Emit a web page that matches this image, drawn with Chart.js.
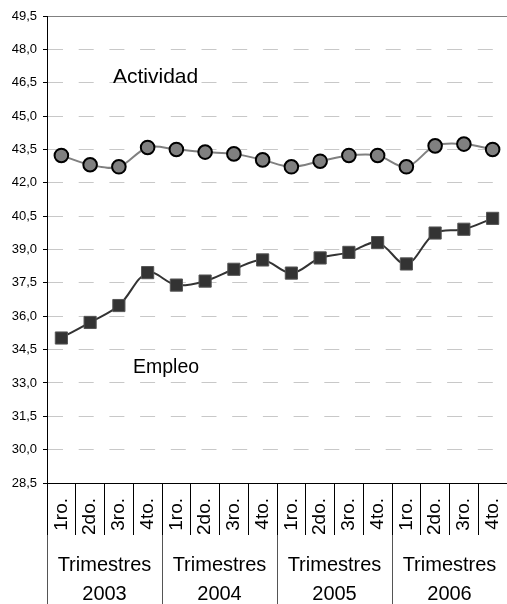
<!DOCTYPE html>
<html>
<head>
<meta charset="utf-8">
<script src="https://cdn.jsdelivr.net/npm/chart.js@4"></script>
<style>
  html, body { margin: 0; padding: 0; background: #fff; }
  #wrap { width: 507px; height: 604px; }
</style>
</head>
<body>
<div id="wrap"><canvas id="c" width="507" height="604"></canvas></div>
<script>
// ---- Data ----
const quarters = ['1ro.', '2do.', '3ro.', '4to.'];
const years = ['2003', '2004', '2005', '2006'];
const groupWord = 'Trimestres';
const actividad = [43.23, 42.81, 42.72, 43.59, 43.50, 43.38, 43.30, 43.03, 42.72, 42.97, 43.23, 43.23, 42.72, 43.66, 43.74, 43.50];
const empleo = [35.02, 35.72, 36.48, 37.96, 37.40, 37.58, 38.11, 38.53, 37.94, 38.62, 38.87, 39.31, 38.35, 39.74, 39.91, 40.40];
const yMin = 28.5;
const yMax = 49.5;
const yStep = 1.5;
const seriesNames = ['Actividad', 'Empleo'];

// ---- Derived ----
const categories = years.flatMap(() => quarters);
const groupLabels = years.map(y => [groupWord, y]);
const fmt = v => v.toFixed(1).replace('.', ',');
const topTickIndex = Math.round((yMax - yMin) / yStep);

const FONT = '"Liberation Sans", Arial, sans-serif';
Chart.defaults.font.family = FONT;
Chart.defaults.color = '#000';

const annotations = {
  id: 'annotations',
  beforeDraw(chart) {
    const c = chart.ctx;
    c.save();
    c.fillStyle = '#fff';
    c.fillRect(0, 0, chart.width, chart.height);
    c.restore();
  },
  afterDatasetsDraw(chart) {
    const c = chart.ctx;
    c.save();
    c.fillStyle = '#000';
    c.textBaseline = 'alphabetic';
    c.textAlign = 'left';
    c.font = '21px ' + FONT;
    c.fillText(seriesNames[0], 113, 83);
    c.font = '19.5px ' + FONT;
    c.fillText(seriesNames[1], 133, 373);
    c.restore();
  }
};

const noSidePadding = (h) => (s) => {
  s.height = h;
  s.paddingLeft = 0;
  s.paddingRight = 0;
};

new Chart(document.getElementById('c'), {
  type: 'line',
  data: {
    labels: categories,
    datasets: [
      {
        label: seriesNames[0],
        data: actividad,
        borderColor: '#808080',
        borderWidth: 2,
        tension: 0.35,
        pointStyle: 'circle',
        pointRadius: 6.8,
        pointHoverRadius: 6.8,
        pointBackgroundColor: '#808080',
        pointBorderColor: '#000',
        pointBorderWidth: 2
      },
      {
        label: seriesNames[1],
        data: empleo,
        borderColor: '#333333',
        borderWidth: 2,
        tension: 0.35,
        pointStyle: 'rect',
        pointRadius: 8.6,
        pointHoverRadius: 8.6,
        pointBackgroundColor: '#333333',
        pointBorderColor: '#555555',
        pointBorderWidth: 1
      }
    ]
  },
  options: {
    responsive: false,
    animation: false,
    events: [],
    layout: { autoPadding: false, padding: { top: 16, right: 0, bottom: 0, left: 0 } },
    plugins: { legend: { display: false }, tooltip: { enabled: false } },
    scales: {
      y: {
        min: yMin,
        max: yMax,
        ticks: {
          stepSize: yStep,
          padding: 6,
          font: { size: 13 },
          color: '#000',
          callback: v => fmt(v)
        },
        grid: {
          color: ctx => (ctx.index === topTickIndex ? '#808080' : '#c8c8c8'),
          lineWidth: 1,
          drawTicks: true,
          tickLength: 4,
          tickColor: '#000',
          tickBorderDash: []
        },
        border: {
          display: true,
          color: '#000',
          width: 1,
          dash: ctx => (ctx.index === topTickIndex ? [] : [15, 15.7])
        },
        afterFit: s => { s.width = 47; }
      },
      x: {
        type: 'category',
        position: 'bottom',
        weight: 0,
        offset: true,
        grid: {
          offset: true,
          drawOnChartArea: false,
          drawTicks: true,
          tickLength: 52,
          color: '#000',
          tickColor: '#000',
          lineWidth: 1
        },
        border: { display: true, color: '#000', width: 1 },
        ticks: {
          autoSkip: false,
          minRotation: 90,
          maxRotation: 90,
          padding: -37,
          font: { size: 19 },
          color: '#000'
        },
        afterFit: noSidePadding(52)
      },
      x2: {
        type: 'category',
        axis: 'x',
        labels: groupLabels,
        position: 'bottom',
        weight: 1,
        offset: true,
        grid: {
          offset: true,
          drawOnChartArea: false,
          drawTicks: true,
          tickLength: 69,
          color: '#555',
          tickColor: '#555',
          lineWidth: 1
        },
        border: { display: false },
        ticks: {
          autoSkip: false,
          maxRotation: 0,
          minRotation: 0,
          padding: -53.5,
          font: { size: 20, lineHeight: 1.45 },
          color: '#000'
        },
        afterFit: noSidePadding(69)
      }
    }
  },
  plugins: [annotations]
});
</script>
</body>
</html>
